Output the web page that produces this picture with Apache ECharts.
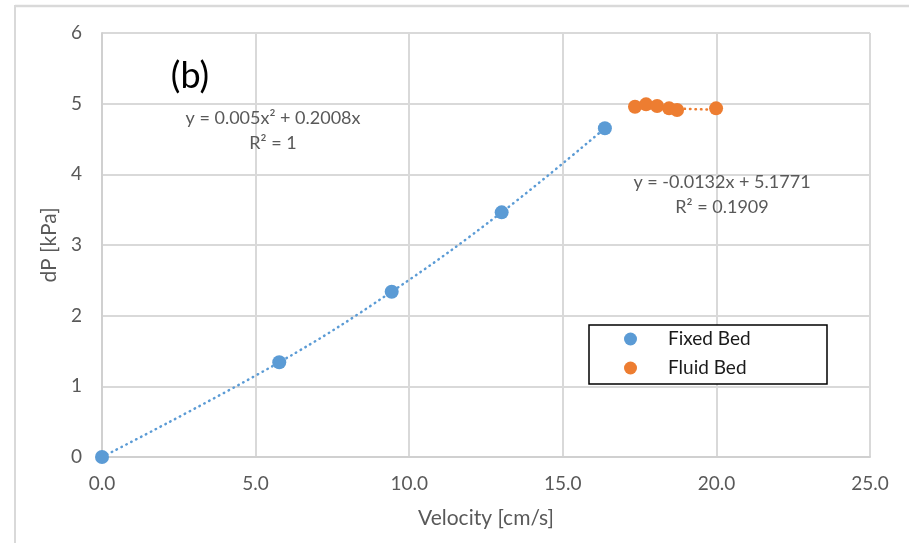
<!DOCTYPE html>
<html>
<head>
<meta charset="utf-8">
<script src="https://cdn.jsdelivr.net/npm/echarts@6/dist/echarts.min.js"></script>
<style>
html,body{margin:0;padding:0;background:#fff;}
#chart{width:909px;height:543px;}
</style>
</head>
<body>
<div id="chart"></div>
<script>
// Data
var fixedX = [0, 5.77, 9.43, 13.01, 16.37];
var fixedY = [0, 1.340, 2.339, 3.462, 4.652];
var fluidX = [17.35, 17.71, 18.07, 18.46, 18.72, 19.99];
var fluidY = [4.957, 4.990, 4.967, 4.934, 4.910, 4.934];
// linear trendline endpoints for fluid bed (y = -0.0132x + 5.1771)
var fluidTrendX = [17.35, 19.99];
var fluidTrendY = [4.948, 4.913];
var xTicks = [0, 5, 10, 15, 20, 25];
var yTicks = [0, 1, 2, 3, 4, 5, 6];
var seriesNames = ['Fixed Bed', 'Fluid Bed'];
var eq1 = ['y = 0.005x\u00B2 + 0.2008x', 'R\u00B2 = 1'];
var eq2 = ['y = -0.0132x + 5.1771', 'R\u00B2 = 0.1909'];
var panelLabel = '(b)';
var xName = 'Velocity [cm/s]';
var yName = 'dP [kPa]';

function zip(a, b) { return a.map(function (v, i) { return [v, b[i]]; }); }

var FONT = 'Lato';
var GRAY = '#595959';
var BLUE = '#5b9bd5';
var ORANGE = '#ed7d31';

var chart = echarts.init(document.getElementById('chart'), null, {renderer: 'canvas'});
var dotted = {width: 2.5, type: [0.5, 5], cap: 'round'};

chart.setOption({
  animation: false,
  backgroundColor: '#fff',
  grid: {left: 102, right: 39, top: 33, bottom: 86, containLabel: false},
  xAxis: {
    type: 'value', min: xTicks[0], max: xTicks[xTicks.length - 1], interval: 5,
    name: xName, nameLocation: 'middle', nameGap: 51,
    nameTextStyle: {fontFamily: FONT, fontSize: 21, color: GRAY},
    axisLine: {show: true, lineStyle: {color: '#d0d0d0', width: 2}},
    axisTick: {show: false},
    axisLabel: {fontFamily: FONT, fontSize: 19, color: GRAY, margin: 17,
      formatter: function (v) { return v.toFixed(1); }},
    splitLine: {show: true, lineStyle: {color: '#d9d9d9', width: 2}}
  },
  yAxis: {
    type: 'value', min: yTicks[0], max: yTicks[yTicks.length - 1], interval: 1,
    name: yName, nameLocation: 'middle', nameGap: 40, nameRotate: 90,
    nameTextStyle: {fontFamily: FONT, fontSize: 21, color: GRAY},
    axisLine: {show: true, lineStyle: {color: '#d0d0d0', width: 2}},
    axisTick: {show: false},
    axisLabel: {fontFamily: FONT, fontSize: 19, color: GRAY, margin: 20},
    splitLine: {show: true, lineStyle: {color: '#d9d9d9', width: 2}}
  },
  legend: {
    orient: 'vertical', left: 624, top: 329.5, padding: 0, z: 10,
    itemWidth: 13, itemHeight: 13, itemGap: 10,
    textStyle: {fontFamily: FONT, fontSize: 19, color: '#1a1a1a', padding: [0, 0, 0, 26]},
    data: [{name: seriesNames[0], icon: 'circle'}, {name: seriesNames[1], icon: 'circle'}]
  },
  graphic: [
    {type: 'line', shape: {x1: 15, y1: 6, x2: 909, y2: 6}, style: {stroke: '#d9d9d9', lineWidth: 2.5}, z: 0},
    {type: 'line', shape: {x1: 15, y1: 5, x2: 15, y2: 543}, style: {stroke: '#d9d9d9', lineWidth: 2}, z: 0},
    {type: 'rect', shape: {x: 589, y: 325, width: 238, height: 59},
      style: {fill: '#fff', stroke: '#000', lineWidth: 1.5}, z: 3},
    {type: 'text', x: 190, y: 76, style: {text: panelLabel, fontFamily: FONT, fontSize: 36, fill: '#000', align: 'center', verticalAlign: 'middle'}, z: 10},
    {type: 'text', x: 273, y: 118, style: {text: eq1[0], fontFamily: FONT, fontSize: 18, fill: GRAY, align: 'center', verticalAlign: 'middle'}, z: 10},
    {type: 'text', x: 273, y: 143, style: {text: eq1[1], fontFamily: FONT, fontSize: 18, fill: GRAY, align: 'center', verticalAlign: 'middle'}, z: 10},
    {type: 'text', x: 722, y: 182, style: {text: eq2[0], fontFamily: FONT, fontSize: 18, fill: GRAY, align: 'center', verticalAlign: 'middle'}, z: 10},
    {type: 'text', x: 722, y: 207, style: {text: eq2[1], fontFamily: FONT, fontSize: 18, fill: GRAY, align: 'center', verticalAlign: 'middle'}, z: 10}
  ],
  series: [
    {name: 'fixedTrend', type: 'line', data: zip(fixedX, fixedY), smooth: 0.4, symbol: 'none',
      lineStyle: Object.assign({color: BLUE}, dotted), silent: true, z: 2},
    {name: 'fluidTrend', type: 'line', data: zip(fluidTrendX, fluidTrendY), symbol: 'none',
      lineStyle: Object.assign({color: ORANGE}, dotted), silent: true, z: 2},
    {name: seriesNames[0], type: 'scatter', data: zip(fixedX, fixedY), symbol: 'circle', symbolSize: 14,
      itemStyle: {color: BLUE, opacity: 1}, z: 3},
    {name: seriesNames[1], type: 'scatter', data: zip(fluidX, fluidY), symbol: 'circle', symbolSize: 14,
      itemStyle: {color: ORANGE, opacity: 1}, z: 3}
  ]
});
</script>
</body>
</html>
